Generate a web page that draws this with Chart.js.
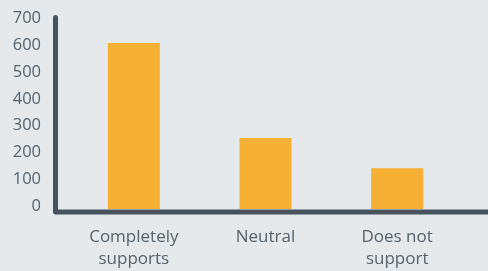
<!DOCTYPE html>
<html>
<head>
<meta charset="utf-8">
<script src="https://cdn.jsdelivr.net/npm/chart.js@4/dist/chart.umd.min.js"></script>
<style>
  html, body { margin: 0; padding: 0; background: #e5e9ec; }
  #wrap { width: 488px; height: 271px; }
</style>
</head>
<body>
<div id="wrap"><canvas id="grafico"></canvas></div>
<script>
// Datos
const categorias = [['Completely', 'supports'], 'Neutral', ['Does not', 'support']];
const valores = [620, 265, 152];
const ticksY = [0, 100, 200, 300, 400, 500, 600, 700];

const COLOR_BARRA = '#f5b035';
const COLOR_EJE = '#47525c';
const COLOR_TEXTO = '#57626b';

// Los ejes del original son dos trazos gruesos con esquina redondeada,
// un poco corridos del área del gráfico, así que los dibujo a mano.
const ejesGruesos = {
    id: 'ejesGruesos',
    afterDatasetsDraw(chart) {
        const { ctx, chartArea } = chart;
        const x = chartArea.left - 12.5;
        const yBase = chartArea.bottom + 3;
        ctx.save();
        ctx.strokeStyle = COLOR_EJE;
        ctx.lineWidth = 5;
        ctx.lineCap = 'round';
        ctx.lineJoin = 'round';
        ctx.beginPath();
        ctx.moveTo(x, chartArea.top - 4);
        ctx.lineTo(x, yBase);
        ctx.lineTo(chart.width + 5, yBase);
        ctx.stroke();
        ctx.restore();
    }
};

new Chart(document.getElementById('grafico'), {
    type: 'bar',
    data: {
        labels: categorias,
        datasets: [{
            data: valores,
            backgroundColor: COLOR_BARRA,
            borderWidth: 0,
            categoryPercentage: 1,
            barPercentage: 0.395
        }]
    },
    options: {
        responsive: true,
        maintainAspectRatio: false,
        animation: false,
        layout: { padding: { top: 21.5, right: 25, left: 0, bottom: 0 } },
        plugins: { legend: { display: false }, tooltip: { enabled: false } },
        scales: {
            x: {
                grid: { display: false, drawTicks: false },
                border: { display: false },
                ticks: {
                    color: COLOR_TEXTO,
                    font: { family: 'Open Sans', size: 17, lineHeight: 1.3 },
                    padding: 17,
                    maxRotation: 0
                },
                afterFit(scale) { scale.height = 62; }
            },
            y: {
                min: 0,
                max: 700,
                afterBuildTicks(scale) { scale.ticks = ticksY.map(v => ({ value: v })); },
                grid: { display: false, drawTicks: false },
                border: { display: false },
                ticks: {
                    color: COLOR_TEXTO,
                    font: { family: 'Open Sans', size: 16.5 },
                    padding: 27,
                    labelOffset: -3
                },
                // El padding de las etiquetas empuja el área hacia abajo; lo anulo
                afterFit(scale) {
                    scale.width = 68;
                    scale.paddingTop = 0;
                    scale.paddingBottom = 0;
                }
            }
        }
    },
    plugins: [ejesGruesos]
});
</script>
</body>
</html>
